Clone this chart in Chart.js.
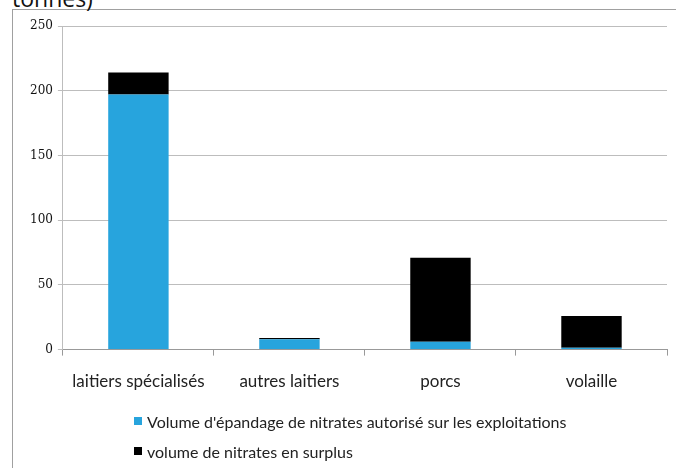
<!DOCTYPE html>
<html>
<head>
<meta charset="utf-8">
<script src="https://cdn.jsdelivr.net/npm/chart.js@4/dist/chart.umd.min.js"></script>
<style>
    body { margin: 0; background: #fff; }
    #wrap { position: relative; width: 676px; height: 468px; overflow: hidden; font-family: Lato, sans-serif; }
    #frame { position: absolute; left: 12px; top: 9px; width: 700px; height: 500px; border: 1px solid #a0a0a0; box-sizing: border-box; }
    #unit { position: absolute; left: 12px; top: -18px; font-size: 23px; color: #111; font-family: "Open Sans", sans-serif; }
    #chartBox { position: absolute; left: 0; top: 0; width: 676px; height: 409px; }
    #legend { position: absolute; left: 134px; top: 406px; font-size: 16px; color: #222; }
    .legend-item { display: flex; align-items: center; height: 30px; }
    .legend-item .swatch { width: 8px; height: 8px; margin-right: 5px; }
</style>
</head>
<body>
<div id="wrap">
    <div id="frame"></div>
    <div id="unit">tonnes)</div>
    <div id="chartBox"><canvas id="nitrateChart"></canvas></div>
    <div id="legend"></div>
</div>
<script>
// --- Data ---
const categories = ['laitiers spécialisés', 'autres laitiers', 'porcs', 'volaille'];
const authorised = [197, 8, 6, 1.5];
const surplus = [17, 1, 65, 24.5];
const seriesNames = ["Volume d'épandage de nitrates autorisé sur les exploitations", 'volume de nitrates en surplus'];
const seriesColors = ['#27A4DD', '#000000'];
const yTicks = [0, 50, 100, 150, 200, 250];

const ctx = document.getElementById('nitrateChart');

const chart = new Chart(ctx, {
    type: 'bar',
    data: {
        labels: categories,
        datasets: [
            { label: seriesNames[0], data: authorised, backgroundColor: seriesColors[0] },
            { label: seriesNames[1], data: surplus, backgroundColor: seriesColors[1] }
        ]
    },
    options: {
        responsive: true,
        maintainAspectRatio: false,
        animation: false,
        datasets: { bar: { barPercentage: 0.4, categoryPercentage: 1 } },
        layout: { padding: { left: 25, right: 9, top: 26, bottom: 1 } },
        plugins: {
            legend: { display: false },
            tooltip: { enabled: false }
        },
        scales: {
            x: {
                stacked: true,
                grid: { drawOnChartArea: false, offset: true, color: '#999', tickLength: 6 },
                border: { color: '#999' },
                ticks: { color: '#222', font: { family: 'Lato', size: 17 }, padding: 16, maxRotation: 0 }
            },
            y: {
                stacked: true,
                min: 0,
                max: 250,
                afterBuildTicks: (axis) => { axis.ticks = yTicks.map(v => ({ value: v })); },
                grid: { color: '#bdbdbd', tickLength: 5 },
                border: { color: '#bdbdbd' },
                ticks: { color: '#111', font: { family: 'DejaVu Serif', size: 12 }, padding: 5 }
            }
        }
    }
});

// --- HTML legend (stacked vertically like the original) ---
const legend = document.getElementById('legend');
chart.data.datasets.forEach(ds => {
    const item = document.createElement('div');
    item.className = 'legend-item';
    item.innerHTML = `<span class="swatch" style="background:${ds.backgroundColor}"></span><span>${ds.label}</span>`;
    legend.appendChild(item);
});
</script>
</body>
</html>
